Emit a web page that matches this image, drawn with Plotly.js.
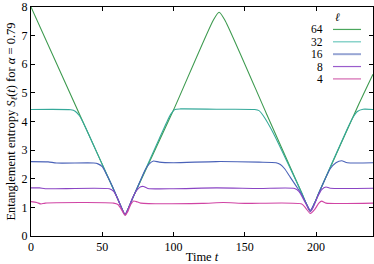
<!DOCTYPE html>
<html>
<head>
<meta charset="utf-8">
<script src="https://cdn.plot.ly/plotly-3.0.1.min.js"></script>
<style>
  html, body { margin: 0; padding: 0; background: #fff; }
  #chart { width: 374px; height: 264px; }
</style>
</head>
<body>
<div id="chart"></div>
<script>
// values
const labels = ['64', '32', '16', '8', '4'];
const colors = ['#3d9a4f', '#35a99a', '#4a62b8', '#8a44c4', '#d044a4'];
const keyColors = ['#4aa65c', '#6cc8bd', '#98a6d4', '#9a5ccc', '#d468b0'];

const t64 = [0, 33, 60, 63, 66, 69, 72, 100, 128, 132, 136, 165, 190, 193, 196, 199, 202, 230, 240];
const s64 = [8.0, 4.37, 1.4, 1.05, 0.74, 1.05, 1.4, 4.4, 7.55, 7.82, 7.55, 4.3, 1.5, 1.15, 0.86, 1.15, 1.5, 4.6, 5.65];

const t32 = [0, 28, 31, 34, 38, 50, 60, 63, 66, 69, 72, 90, 95, 98, 101, 105, 130, 157, 160, 163, 170, 190, 193, 196, 199, 202, 222, 226, 229, 233, 240];
const s32 = [4.42, 4.41, 4.36, 4.2, 3.82, 2.5, 1.4, 1.05, 0.74, 1.05, 1.4, 3.4, 3.95, 4.25, 4.42, 4.44, 4.43, 4.42, 4.38, 4.2, 3.6, 1.5, 1.15, 0.86, 1.15, 1.5, 3.75, 4.15, 4.35, 4.43, 4.42];

const t16 = [0, 12, 18, 44, 47, 50, 53, 57, 60, 63, 66, 69, 72, 76, 80, 83, 86, 90, 100, 130, 160, 172, 175, 178, 182, 186, 190, 193, 196, 199, 202, 206, 210, 214, 218, 222, 240];
const s16 = [2.6, 2.59, 2.55, 2.55, 2.52, 2.42, 2.15, 1.75, 1.4, 1.05, 0.76, 1.05, 1.4, 1.85, 2.3, 2.52, 2.62, 2.58, 2.56, 2.6, 2.58, 2.56, 2.5, 2.35, 2.05, 1.75, 1.45, 1.15, 0.9, 1.15, 1.5, 1.95, 2.35, 2.56, 2.63, 2.56, 2.56];

const t8 = [0, 6, 10, 55, 58, 61, 64, 66, 68, 71, 74, 77, 79, 82, 100, 130, 160, 185, 188, 191, 194, 196, 198, 201, 204, 207, 210, 240];
const s8 = [1.68, 1.68, 1.65, 1.65, 1.56, 1.28, 0.92, 0.75, 0.92, 1.3, 1.58, 1.72, 1.73, 1.66, 1.65, 1.68, 1.66, 1.66, 1.56, 1.3, 1.02, 0.86, 1.0, 1.35, 1.62, 1.71, 1.67, 1.67];

const t4 = [0, 4, 7, 10, 58, 61, 63, 66, 68, 70, 72, 74, 77, 120, 135, 150, 190, 193, 196, 199, 202, 204, 207, 240];
const s4 = [1.2, 1.17, 1.12, 1.15, 1.15, 1.1, 0.96, 0.72, 0.86, 1.1, 1.22, 1.2, 1.15, 1.14, 1.17, 1.14, 1.12, 0.96, 0.79, 0.92, 1.15, 1.22, 1.15, 1.15];

const xs = [t64, t32, t16, t8, t4];
const ys = [s64, s32, s16, s8, s4];

const xTicks = [0, 50, 100, 150, 200];
const yTicks = [0, 1, 2, 3, 4, 5, 6, 7, 8];

const font = 'Liberation Serif, DejaVu Serif, serif';

const traces = labels.map(function (lab, i) {
    return {
        x: xs[i], y: ys[i], type: 'scatter', mode: 'lines',
        line: { color: colors[i], width: 1.1, shape: 'spline', smoothing: 0.6 },
        name: lab, showlegend: false
    };
});

// hand-made key: label on the left, line sample on the right (like gnuplot)
const keyTop = 0.902, keyStep = 0.054;
const annotations = [{
    xref: 'paper', yref: 'paper', x: 0.895, y: 0.955, text: '<i>ℓ</i>',
    showarrow: false, xanchor: 'center', yanchor: 'middle', font: { family: font, size: 11.5 }
}];
const shapes = [];
labels.forEach(function (lab, i) {
    const yy = keyTop - i * keyStep;
    annotations.push({
        xref: 'paper', yref: 'paper', x: 0.86, y: yy, text: lab,
        showarrow: false, xanchor: 'right', yanchor: 'middle', font: { family: font, size: 11.5 }
    });
    shapes.push({
        type: 'line', xref: 'paper', yref: 'paper', x0: 0.883, x1: 0.965, y0: yy, y1: yy,
        line: { color: keyColors[i], width: i === 2 ? 2 : 1.2 }
    });
});

const axisCommon = {
    showgrid: false, zeroline: false, showline: true, mirror: 'ticks',
    linecolor: '#000', linewidth: 1, ticks: 'inside', ticklen: 4, tickcolor: '#000',
    tickfont: { family: font, size: 12, color: '#000' }
};

const layout = {
    width: 374, height: 264,
    margin: { l: 31, r: 1, t: 7, b: 28 },
    paper_bgcolor: '#fff', plot_bgcolor: '#fff',
    font: { family: font, size: 12, color: '#000' },
    showlegend: false,
    annotations: annotations,
    shapes: shapes,
    xaxis: Object.assign({}, axisCommon, {
        range: [0, 240], tickvals: xTicks,
        title: { text: 'Time <i>t</i>', font: { family: font, size: 12.5 }, standoff: 1 }
    }),
    yaxis: Object.assign({}, axisCommon, {
        range: [0, 8.001], tickvals: yTicks,
        title: { text: 'Entanglement entropy <i>S</i><sub><i>ℓ</i></sub>(<i>t</i>) for <i>α</i> = 0.79', font: { family: font, size: 12.5 }, standoff: 3 }
    })
};

Plotly.newPlot('chart', traces, layout, { displayModeBar: false, staticPlot: true });
</script>
</body>
</html>
